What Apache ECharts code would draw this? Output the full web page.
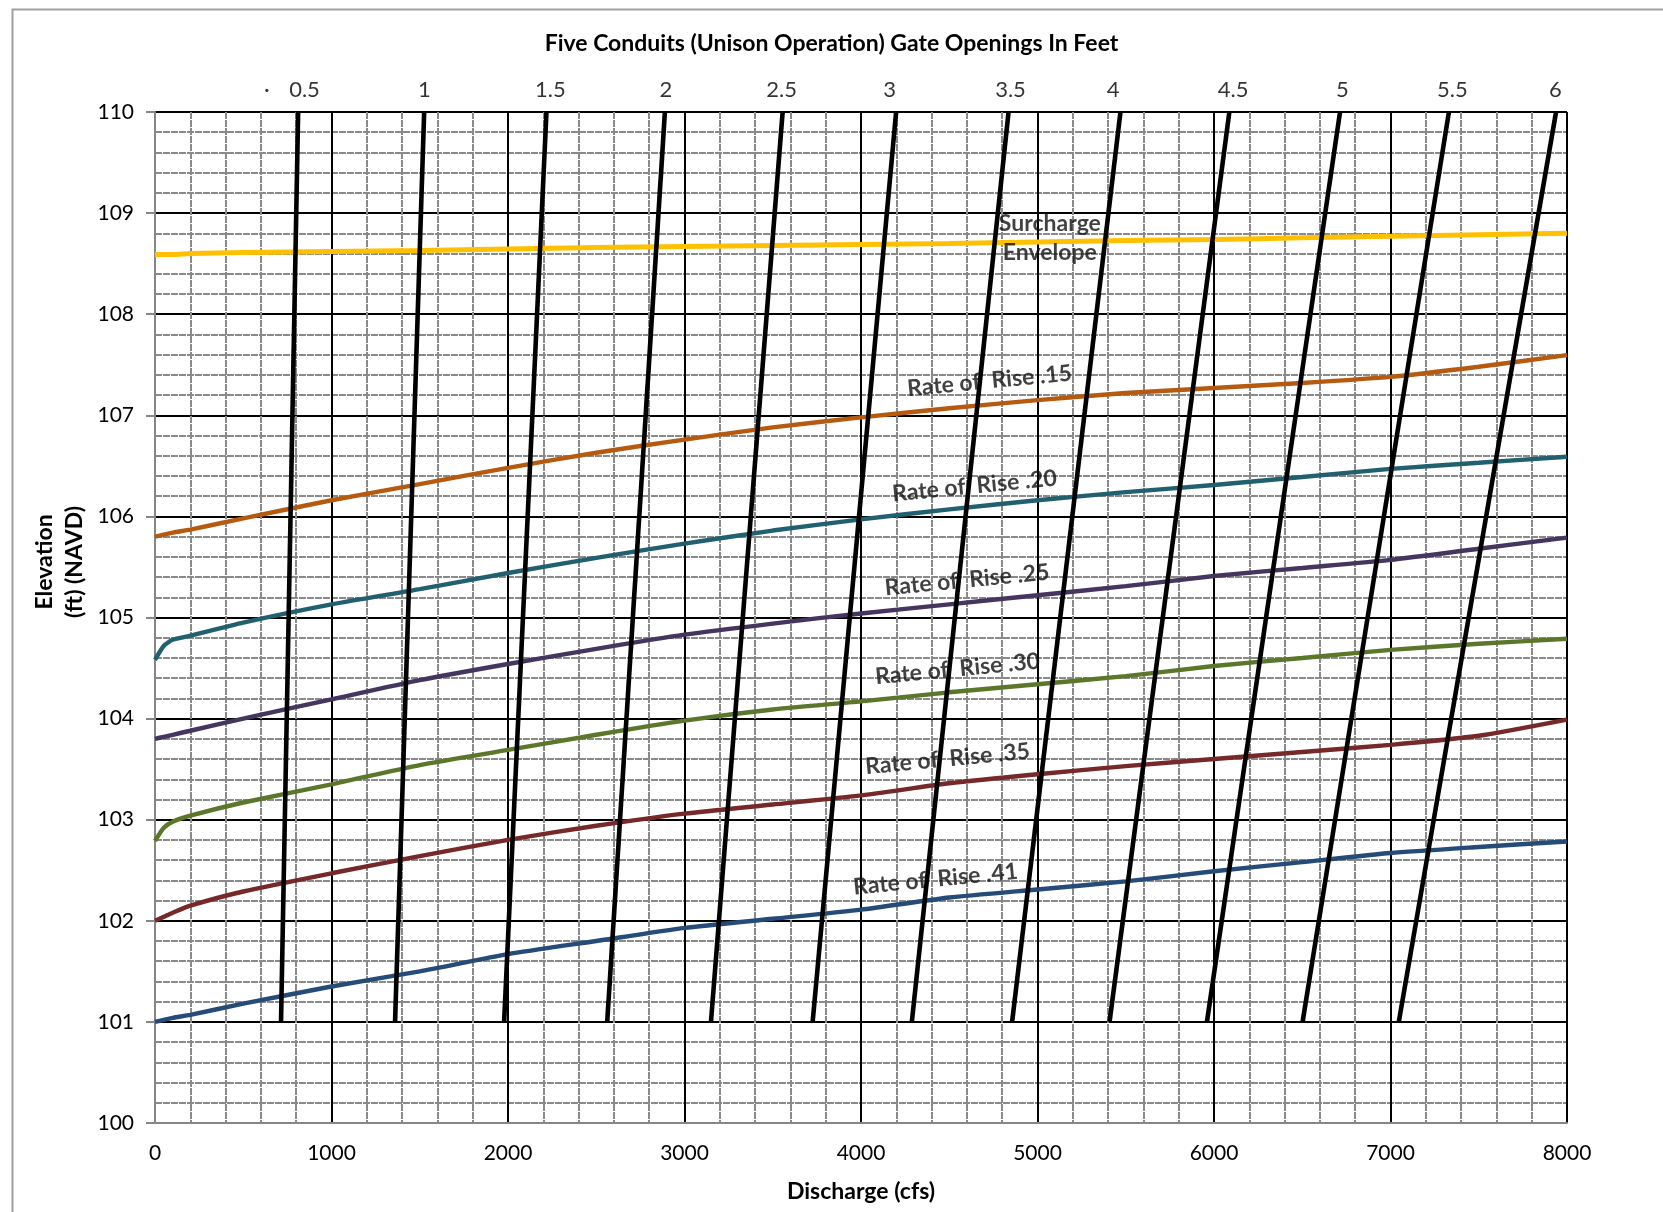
<!DOCTYPE html>
<html>
<head>
<meta charset="utf-8">
<title>Five Conduits Gate Openings</title>
<script src="https://cdn.jsdelivr.net/npm/echarts@6/dist/echarts.min.js"></script>
<style>
  html, body { margin: 0; padding: 0; background: #ffffff; }
  #chart { width: 1663px; height: 1212px; }
</style>
</head>
<body>
<div id="chart"></div>
<script>
// ---- Data -----------------------------------------------------------------
// Discharge (cfs) sample points shared by the rate-of-rise curves
const discharge = [0, 50, 100, 200, 500, 1000, 1500, 2000, 2500, 3000, 3500,
                   4000, 4500, 5000, 5500, 6000, 6500, 7000, 7500, 8000];

// Elevation (ft NAVD) of each curve at the discharges above
const surchargeEnvelope = [108.59, 108.59, 108.59, 108.60, 108.61, 108.62, 108.63, 108.645, 108.66, 108.67, 108.68,
                           108.69, 108.70, 108.715, 108.73, 108.74, 108.755, 108.77, 108.785, 108.80];
const rise15 = [105.80, 105.82, 105.84, 105.87, 105.98, 106.16, 106.32, 106.48, 106.63, 106.76, 106.88,
                106.98, 107.07, 107.15, 107.22, 107.27, 107.32, 107.38, 107.48, 107.595];
const rise20 = [104.58, 104.72, 104.78, 104.82, 104.95, 105.13, 105.28, 105.44, 105.59, 105.73, 105.86,
                105.97, 106.07, 106.16, 106.24, 106.31, 106.39, 106.47, 106.53, 106.59];
const rise25 = [103.80, 103.82, 103.84, 103.88, 104.00, 104.19, 104.38, 104.54, 104.69, 104.83, 104.94,
                105.04, 105.13, 105.22, 105.31, 105.41, 105.49, 105.57, 105.68, 105.79];
const rise30 = [102.79, 102.92, 102.98, 103.04, 103.17, 103.35, 103.54, 103.69, 103.84, 103.98, 104.09,
                104.17, 104.26, 104.34, 104.42, 104.52, 104.60, 104.68, 104.74, 104.79];
const rise35 = [102.00, 102.04, 102.08, 102.15, 102.29, 102.47, 102.64, 102.80, 102.94, 103.06, 103.15,
                103.24, 103.36, 103.45, 103.53, 103.60, 103.67, 103.74, 103.83, 103.99];
const rise41 = [101.00, 101.02, 101.04, 101.07, 101.18, 101.35, 101.50, 101.67, 101.80, 101.93, 102.02,
                102.11, 102.23, 102.31, 102.39, 102.49, 102.58, 102.67, 102.73, 102.785];

// Gate opening lines (five conduits, unison operation): discharge at 101 ft and at 110 ft
const gateOpenings = ['0.5', '1', '1.5', '2', '2.5', '3', '3.5', '4', '4.5', '5', '5.5', '6'];
const gateQAtLow  = [714, 1360, 1978, 2562, 3150, 3726, 4288, 4856, 5408, 5960, 6502, 7047];
const gateQAtHigh = [811, 1525, 2218, 2889, 3556, 4199, 4836, 5470, 6087, 6714, 7331, 7938];
const gateElevRange = [101, 110];

// Axis ticks
const dischargeTicks = [0, 8000, 1000];   // min, max, step
const elevationTicks = [100, 110, 1];     // min, max, step

// Curve names, shown along each curve
const curveNames = ['Surcharge\nEnvelope', 'Rate of  Rise .15', 'Rate of  Rise .20', 'Rate of  Rise .25',
                    'Rate of  Rise .30', 'Rate of  Rise .35', 'Rate of  Rise .41'];

// ---- Layout / styling -----------------------------------------------------
const FONT = 'Lato';
const curveColors = ['#FFC000', '#B65A10', '#21606F', '#45355F', '#5B7729', '#772829', '#254B78'];
const curveSeries = [surchargeEnvelope, rise15, rise20, rise25, rise30, rise35, rise41];
// where each curve's name sits (discharge, elevation) and its tilt
const namePlacement = [
  { at: [5070, 108.755], rotate: 0 },
  { at: [4728, 107.34], rotate: 5.5 },
  { at: [4643, 106.30], rotate: 5.5 },
  { at: [4601, 105.37], rotate: 5.5 },
  { at: [4547, 104.49], rotate: 5.5 },
  { at: [4490, 103.60], rotate: 5.5 },
  { at: [4422, 102.41], rotate: 5.5 }
];
// discharge under each gate-opening caption along the top edge
const gateCaptionAt = [847, 1526, 2240, 2895, 3550, 4162, 4847, 5429, 6108, 6727, 7351, 7934];
const strayDot = { at: [634, 110], text: '\u00B7' };

const majorColor = '#000000';
const minorColor = '#8a8a8a';
const axisGray = '#868686';

function gridColors(count) {
  const c = [axisGray];
  for (let i = 1; i < count; i++) c.push(majorColor);
  return c;
}

const series = [];

curveSeries.forEach((vals, i) => {
  series.push({
    type: 'line',
    name: curveNames[i],
    data: discharge.map((q, k) => [q, vals[k]]),
    showSymbol: false,
    symbol: 'none',
    smooth: 0.2,
    lineStyle: { color: curveColors[i], width: i === 0 ? 5 : 4.4 },
    z: 3,
    silent: true
  });
});

gateOpenings.forEach((g, i) => {
  series.push({
    type: 'line',
    name: 'Gate ' + g,
    data: [[gateQAtLow[i], gateElevRange[0]], [gateQAtHigh[i], gateElevRange[1]]],
    showSymbol: false,
    symbol: 'none',
    lineStyle: { color: '#000', width: 4.6, cap: 'butt' },
    z: 4,
    silent: true
  });
});

// gate opening captions above the plot
series.push({
  type: 'scatter',
  symbolSize: 0,
  z: 6,
  silent: true,
  data: gateOpenings.map((g, i) => ({ value: [gateCaptionAt[i], gateElevRange[1]], name: g }))
        .concat([{ value: strayDot.at, name: strayDot.text }]),
  label: {
    show: true, position: 'top', distance: 11,
    formatter: p => p.name,
    fontFamily: FONT, fontSize: 22, color: '#000'
  }
});

// curve names
series.push({
  type: 'scatter',
  symbolSize: 0,
  z: 7,
  silent: true,
  data: curveNames.map((n, i) => ({
    value: namePlacement[i].at,
    name: n,
    label: { rotate: namePlacement[i].rotate }
  })),
  label: {
    show: true, position: 'inside',
    formatter: p => p.name,
    fontFamily: FONT, fontSize: 23, fontWeight: 'bold', color: '#111',
    lineHeight: 29, align: 'center', verticalAlign: 'middle'
  }
});

const option = {
  backgroundColor: '#ffffff',
  animation: false,
  title: {
    text: 'Five Conduits (Unison Operation) Gate Openings In Feet',
    left: 'center',
    top: 27,
    textStyle: { fontFamily: FONT, fontSize: 23, fontWeight: 'bold', color: '#000' }
  },
  graphic: [
    {
      type: 'rect', left: 10, top: 7, silent: true,
      shape: { width: 1700, height: 1260 },
      style: { fill: 'none', stroke: '#a0a0a0', lineWidth: 2 }
    },
    {
      // vertical axis title
      type: 'text', x: 60, y: 562, rotation: Math.PI / 2, silent: true,
      style: {
        text: 'Elevation\n(ft) (NAVD)',
        fontFamily: FONT, fontSize: 23, fontWeight: 'bold', fill: '#000',
        lineHeight: 30, align: 'center', verticalAlign: 'middle'
      }
    }
  ],
  grid: { left: 155, right: 96, top: 112, bottom: 89, containLabel: false },
  xAxis: {
    type: 'value',
    min: dischargeTicks[0], max: dischargeTicks[1], interval: dischargeTicks[2],
    name: 'Discharge (cfs)', nameLocation: 'middle', nameGap: 57,
    nameTextStyle: { fontFamily: FONT, fontSize: 23, fontWeight: 'bold', color: '#000' },
    axisLine: { show: true, lineStyle: { color: axisGray, width: 2 } },
    axisTick: { show: false },
    axisLabel: { fontFamily: FONT, fontSize: 21, color: '#000', margin: 20, formatter: v => String(v) },
    splitLine: { show: true, lineStyle: { color: gridColors(9), width: 2 } },
    minorTick: { show: false, splitNumber: 5 },
    minorSplitLine: { show: true, lineStyle: { color: minorColor, width: 2, type: [7, 1] } }
  },
  yAxis: {
    type: 'value',
    min: elevationTicks[0], max: elevationTicks[1], interval: elevationTicks[2],
    axisLine: { show: true, lineStyle: { color: axisGray, width: 2 } },
    axisTick: { show: true, inside: false, length: 9, lineStyle: { color: axisGray, width: 2 } },
    axisLabel: { fontFamily: FONT, fontSize: 21, color: '#000', margin: 21 },
    splitLine: { show: true, lineStyle: { color: gridColors(11), width: 2 } },
    minorTick: { show: false, splitNumber: 5 },
    minorSplitLine: { show: true, lineStyle: { color: minorColor, width: 2, type: [7, 1] } }
  },
  series: series
};

const chart = echarts.init(document.getElementById('chart'), null, { renderer: 'canvas' });
chart.setOption(option);
</script>
</body>
</html>
